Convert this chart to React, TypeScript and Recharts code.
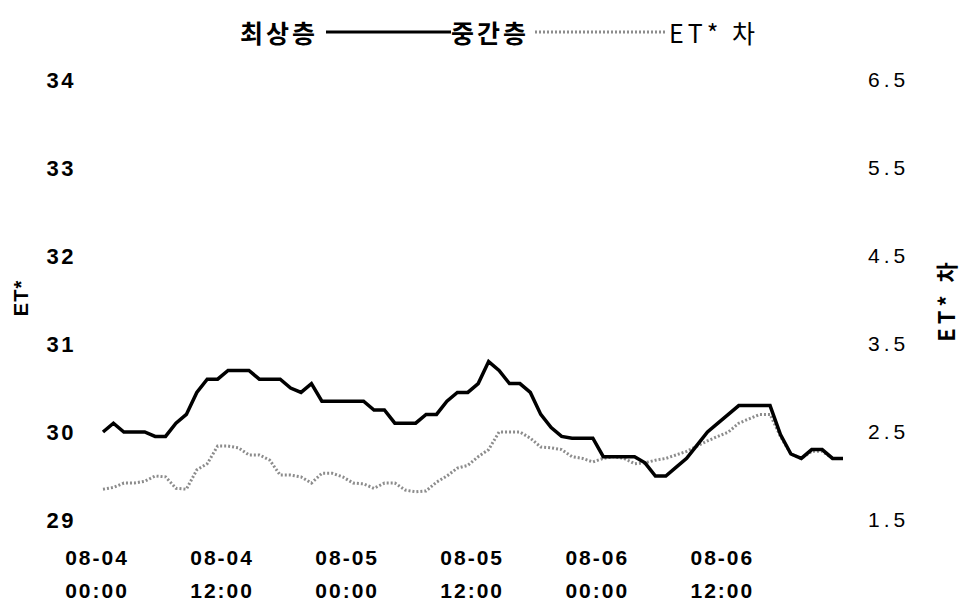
import React from 'react';
import { LineChart, Line, XAxis, YAxis } from 'recharts';

// Time categories (hourly, 08-04 00:00 … 08-06 23:00)
const days: string[] = ['08-04', '08-05', '08-06'];
const hourLabels: string[] = [
  '00:00', '01:00', '02:00', '03:00', '04:00', '05:00', '06:00', '07:00',
  '08:00', '09:00', '10:00', '11:00', '12:00', '13:00', '14:00', '15:00',
  '16:00', '17:00', '18:00', '19:00', '20:00', '21:00', '22:00', '23:00',
];
const categories: string[] = days.flatMap((d) => hourLabels.map((h) => `${d} ${h}`));

// 중간층 ET* (left axis)
const midLayer: number[] = [
  30.0, 30.1, 30.0, 30.0, 30.0, 29.95, 29.95, 30.1, 30.2, 30.45, 30.6, 30.6,
  30.7, 30.7, 30.7, 30.6, 30.6, 30.6, 30.5, 30.45, 30.55, 30.35, 30.35, 30.35,
  30.35, 30.35, 30.25, 30.25, 30.1, 30.1, 30.1, 30.2, 30.2, 30.35, 30.45, 30.45,
  30.55, 30.8, 30.7, 30.55, 30.55, 30.45, 30.2, 30.05, 29.95, 29.93, 29.93, 29.93,
  29.72, 29.72, 29.72, 29.72, 29.65, 29.5, 29.5, 29.6, 29.7, 29.85, 30.0, 30.1,
  30.2, 30.3, 30.3, 30.3, 30.3, 29.97, 29.75, 29.7, 29.8, 29.8, 29.7, 29.7,
];

// ET* 차 (right axis)
const etDiff: number[] = [
  1.85, 1.87, 1.92, 1.92, 1.94, 2.0, 1.99, 1.86, 1.85, 2.07, 2.14, 2.34,
  2.34, 2.32, 2.24, 2.24, 2.18, 2.01, 2.01, 1.99, 1.92, 2.03, 2.03, 1.99,
  1.92, 1.91, 1.86, 1.92, 1.92, 1.84, 1.82, 1.83, 1.93, 2.0, 2.09, 2.12,
  2.22, 2.3, 2.5, 2.5, 2.5, 2.43, 2.33, 2.32, 2.3, 2.22, 2.2, 2.16,
  2.2, 2.22, 2.2, 2.14, 2.15, 2.18, 2.2, 2.24, 2.28, 2.34, 2.4, 2.45,
  2.5, 2.6, 2.65, 2.7, 2.7, 2.45, 2.25, 2.2, 2.28, 2.28, 2.2, 2.2,
];

const leftTicks: number[] = [29, 30, 31, 32, 33, 34];
const rightTicks: number[] = [1.5, 2.5, 3.5, 4.5, 5.5, 6.5];

const seriesNames = { top: '최상층', mid: '중간층', diff: 'ET* 차' };
const leftTitle = 'ET*';
const rightTitle = 'ET* 차';

const data = categories.map((time, i) => ({ time, mid: midLayer[i], diff: etDiff[i] }));

const FONT = '"Liberation Sans", Arial, "Noto Sans CJK KR", sans-serif';
const KFONT = '"Noto Sans CJK KR", "Liberation Sans", sans-serif';

const XTick = (props: any) => {
  const { x, y, payload } = props;
  const [d, t] = String(payload.value).split(' ');
  const cx = x - 6;
  return (
    <text
      x={cx}
      y={y}
      textAnchor="middle"
      fontFamily={FONT}
      fontSize={21}
      fontWeight="bold"
      letterSpacing={2}
      fill="#000"
    >
      <tspan x={cx} dy={45}>{d}</tspan>
      <tspan x={cx} dy={33}>{t}</tspan>
    </text>
  );
};

const LeftTitle = (props: any) => {
  const vb = props.viewBox || {};
  const cx = vb.x + 21;
  const cy = vb.y + vb.height / 2 - 2;
  return (
    <text
      x={cx}
      y={cy}
      transform={`rotate(-90, ${cx}, ${cy})`}
      textAnchor="middle"
      dominantBaseline="central"
      fontFamily={FONT}
      fontSize={20}
      fontWeight="bold"
      letterSpacing={1}
      fill="#000"
    >
      {leftTitle}
    </text>
  );
};

const RightTitle = (props: any) => {
  const vb = props.viewBox || {};
  const cx = vb.x + 102;
  const cy = vb.y + vb.height / 2;
  return (
    <text
      x={cx}
      y={cy}
      transform={`rotate(-90, ${cx}, ${cy})`}
      textAnchor="middle"
      dominantBaseline="central"
      fontFamily={KFONT}
      fontSize={22}
      fontWeight="bold"
      letterSpacing={4}
      fill="#000"
    >
      {rightTitle}
    </text>
  );
};

const legendText: React.CSSProperties = {
  fontFamily: KFONT,
  fontSize: 25,
  fontWeight: 'bold',
  color: '#000',
  lineHeight: '30px',
  letterSpacing: 3,
  whiteSpace: 'nowrap',
};

export default function App() {
  return (
    <div style={{ position: 'absolute', left: 0, top: 0, width: 961, height: 605, background: '#fff' }}>
      <div
        style={{
          position: 'absolute',
          left: 240,
          top: 17,
          display: 'flex',
          alignItems: 'center',
          height: 30,
        }}
      >
        <span style={legendText}>{seriesNames.top}</span>
        <span style={{ display: 'inline-block', width: 8 }} />
        <svg width={125} height={10}>
          <line x1={0} y1={5} x2={125} y2={5} stroke="#000" strokeWidth={3} />
        </svg>
        <span style={legendText}>{seriesNames.mid}</span>
        <span style={{ display: 'inline-block', width: 6 }} />
        <svg width={130} height={10}>
          <line x1={0} y1={5} x2={130} y2={5} stroke="#8c8c8c" strokeWidth={3} strokeDasharray="2 2" />
        </svg>
        <span style={{ display: 'inline-block', width: 4 }} />
        <span style={{ ...legendText, fontWeight: 'normal', letterSpacing: 4 }}>{seriesNames.diff}</span>
      </div>
      <LineChart width={961} height={605} data={data} margin={{ top: 80, right: 0, bottom: 0, left: 0 }}>
        <XAxis
          dataKey="time"
          interval={11}
          tick={<XTick />}
          tickLine={false}
          axisLine={false}
          tickSize={0}
          tickMargin={0}
          height={85}
        />
        <YAxis
          yAxisId="left"
          orientation="left"
          domain={[29, 34]}
          ticks={leftTicks}
          width={103}
          tickLine={false}
          axisLine={false}
          tickSize={0}
          tickMargin={27}
          tick={{ fontFamily: FONT, fontSize: 22, fontWeight: 'bold', fill: '#000', letterSpacing: 2.5 }}
          label={{ content: <LeftTitle /> }}
        />
        <YAxis
          yAxisId="right"
          orientation="right"
          domain={[1.5, 6.5]}
          ticks={rightTicks}
          width={118}
          tickLine={false}
          axisLine={false}
          tickSize={0}
          tickMargin={25}
          tickFormatter={(v: number) => v.toFixed(1)}
          tick={{ fontFamily: FONT, fontSize: 21, fill: '#000', letterSpacing: 4 }}
          label={{ content: <RightTitle /> }}
        />
        <Line
          yAxisId="right"
          type="linear"
          dataKey="diff"
          name={seriesNames.diff}
          stroke="#8c8c8c"
          strokeWidth={3}
          strokeDasharray="2 2"
          dot={false}
          isAnimationActive={false}
        />
        <Line
          yAxisId="left"
          type="linear"
          dataKey="mid"
          name={seriesNames.mid}
          stroke="#000"
          strokeWidth={3.5}
          dot={false}
          isAnimationActive={false}
        />
      </LineChart>
    </div>
  );
}
